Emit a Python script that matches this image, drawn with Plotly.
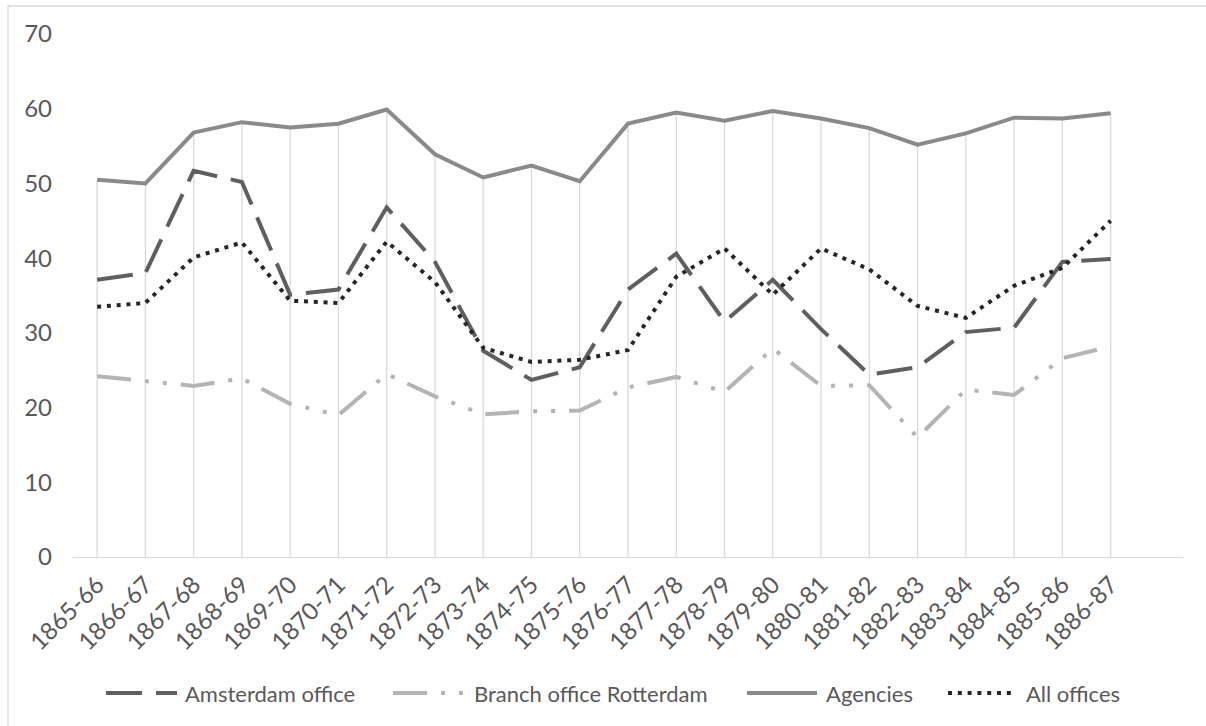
import plotly.graph_objects as go

# Financial years on the category axis
seasons = [
    "1865-66", "1866-67", "1867-68", "1868-69", "1869-70", "1870-71",
    "1871-72", "1872-73", "1873-74", "1874-75", "1875-76", "1876-77",
    "1877-78", "1878-79", "1879-80", "1880-81", "1881-82", "1882-83",
    "1883-84", "1884-85", "1885-86", "1886-87",
]

amsterdam_office = [37.1, 38.0, 51.7, 50.2, 35.1, 35.8, 46.8, 39.5, 27.6, 23.7, 25.4,
                    35.8, 40.6, 31.5, 37.1, 30.5, 24.4, 25.4, 30.1, 30.7, 39.5, 39.9]
branch_rotterdam = [24.2, 23.6, 22.9, 23.9, 20.5, 19.0, 24.5, 21.5, 19.1, 19.5, 19.6,
                    22.7, 24.1, 22.1, 27.9, 22.9, 23.0, 16.0, 22.4, 21.7, 26.6, 28.2]
agencies = [50.5, 50.0, 56.8, 58.2, 57.5, 58.0, 59.9, 53.9, 50.8, 52.4, 50.3,
            58.0, 59.5, 58.4, 59.7, 58.7, 57.4, 55.2, 56.7, 58.8, 58.7, 59.4]
all_offices = [33.5, 34.0, 40.1, 42.1, 34.3, 34.0, 42.2, 36.8, 28.0, 26.1, 26.4,
               27.7, 37.5, 41.3, 35.1, 41.3, 38.5, 33.6, 32.0, 36.3, 38.7, 45.0]

y_ticks = [0, 10, 20, 30, 40, 50, 60, 70]

FONT = "Lato"
TEXT = "#595959"
GRID = "#d9d9d9"

W, H = 1206, 726
M_L, M_R, M_T, M_B = 73, 23, 34, 169
PW, PH = W - M_L - M_R, H - M_T - M_B


def px_x(x):
    return (x - M_L) / PW


def px_y(y):
    return (H - M_B - y) / PH


series = [
    ("Amsterdam office", amsterdam_office, "#5f5f5f", "36px,14px"),
    ("Branch office Rotterdam", branch_rotterdam, "#b4b4b4",
     "34px,14px,4px,14px,4px,14px"),
    ("Agencies", agencies, "#8a8a8a", "solid"),
    ("All offices", all_offices, "#262626", "4px,5.8px"),
]

fig = go.Figure()

# Drop lines from the highest series down to the axis
drop_x, drop_y = [], []
for i, s in enumerate(seasons):
    top = max(amsterdam_office[i], branch_rotterdam[i], agencies[i], all_offices[i])
    drop_x += [s, s, None]
    drop_y += [0, top, None]
fig.add_trace(go.Scatter(
    x=drop_x, y=drop_y, mode="lines",
    line=dict(color=GRID, width=1.3),
    hoverinfo="skip", showlegend=False,
))

for name, vals, color, dash in series:
    fig.add_trace(go.Scatter(
        x=seasons, y=vals, name=name, mode="lines",
        line=dict(color=color, width=4, dash=dash),
        showlegend=False,
    ))

# Legend drawn along the bottom: sample line plus label
legend_y = px_y(693)
legend_items = [(106, 177, 183), (393, 465, 472), (747, 817, 824), (948, 1012, 1024)]
shapes = []
annotations = []
for (x0, x1, xt), (name, _, color, dash) in zip(legend_items, series):
    shapes.append(dict(
        type="line", xref="paper", yref="paper",
        x0=px_x(x0), x1=px_x(x1), y0=legend_y, y1=legend_y,
        line=dict(color=color, width=4, dash=dash),
    ))
    annotations.append(dict(
        xref="paper", yref="paper", x=px_x(xt), y=legend_y,
        xanchor="left", yanchor="middle", text=name, showarrow=False,
        font=dict(family=FONT, size=22, color=TEXT),
    ))

# Chart area border
shapes.append(dict(
    type="rect", xref="paper", yref="paper",
    x0=px_x(8), x1=px_x(1220), y0=px_y(6), y1=px_y(740),
    line=dict(color=GRID, width=1.3), fillcolor="rgba(0,0,0,0)", layer="below",
))

fig.update_layout(
    width=W, height=H,
    margin=dict(l=M_L, r=M_R, t=M_T, b=M_B),
    paper_bgcolor="white", plot_bgcolor="white",
    font=dict(family=FONT, size=22, color=TEXT),
    showlegend=False,
    shapes=shapes, annotations=annotations,
    xaxis=dict(
        type="category", categoryorder="array", categoryarray=seasons,
        range=[-0.5, 22.5], showgrid=False, zeroline=False,
        showline=True, linecolor=GRID, linewidth=1.3,
        ticks="", tickangle=-45, ticklabelstandoff=3,
        tickfont=dict(family=FONT, size=24, color=TEXT),
    ),
    yaxis=dict(
        range=[0, 70], tickvals=y_ticks, showgrid=False, zeroline=False,
        showline=False, ticks="", ticklabelstandoff=20,
        tickfont=dict(family=FONT, size=24, color=TEXT),
    ),
)

fig.write_html("out.html")
